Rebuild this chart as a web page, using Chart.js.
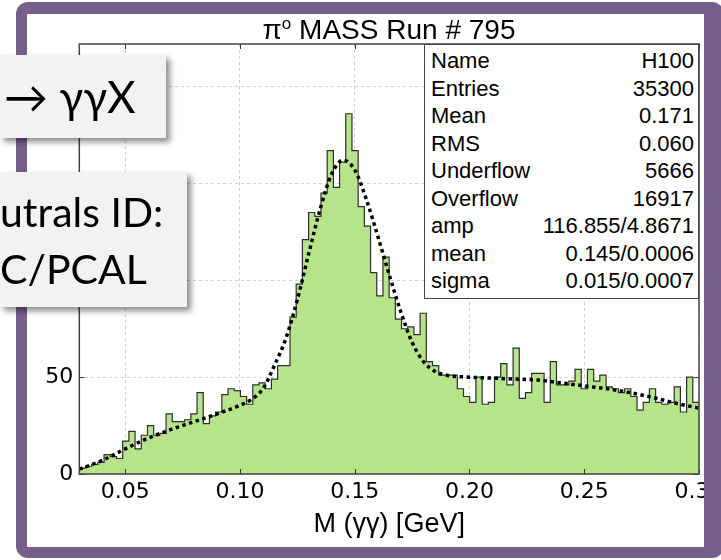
<!DOCTYPE html>
<html>
<head>
<meta charset="utf-8">
<script src="https://cdn.jsdelivr.net/npm/chart.js@4.4.1/dist/chart.umd.min.js"></script>
<style>
    html, body { margin: 0; padding: 0; background: #fff; }
    #stage { position: relative; width: 721px; height: 560px; overflow: hidden; background: #fff; }
    #plot { position: absolute; left: 0; top: 0; z-index: 1; }
    .frame {
        position: absolute; left: 16px; top: 2px; width: 708px; height: 556px;
        box-sizing: border-box; border: 12px solid #775f8b; border-right-width: 20px;
        border-bottom-width: 11px; border-left-width: 11px;
        border-radius: 12px; z-index: 2; pointer-events: none;
    }
    .title {
        position: absolute; left: 79px; width: 620px; top: 8px; text-align: center;
        font: 28px "Liberation Sans", Arial, sans-serif; line-height: 32px; color: #000; z-index: 3;
    }
    .stats {
        position: absolute; left: 424px; top: 44px; width: 275px; height: 255px;
        box-sizing: border-box; border: 1px solid #444; background: #fff; z-index: 3;
        padding: 2px 4px 0 6px; font: 22px "Liberation Sans", Arial, sans-serif; color: #000;
    }
    .stats .row { display: flex; justify-content: space-between; height: 27.5px; line-height: 27.5px; }
    .callout {
        position: absolute; left: 0; background: #f2f2f2; z-index: 4;
        box-shadow: 4px 4px 6px rgba(0,0,0,0.45);
        font-family: Lato, "Open Sans", sans-serif; color: #000; white-space: nowrap;
    }
    #box1 { top: 55px; width: 166px; height: 83px; font-size: 44px; line-height: 83px; padding-left: 4px; box-sizing: border-box; }
    #box2 { top: 172px; width: 187px; height: 135px; font-size: 41px; line-height: 57px; padding-top: 11px; box-sizing: border-box; }
</style>
</head>
<body>
<div id="stage">
    <canvas id="plot" width="721" height="560"></canvas>
    <div class="frame"></div>
    <div class="title">π<sup style="font-size:17px">o</sup> MASS Run # 795</div>
    <div class="stats" id="stats"></div>
    <div class="callout" id="box1">→ γγX</div>
    <div class="callout" id="box2">utrals ID:<br>C/PCAL</div>
</div>

<script>
// histogram H100: 100 bins between 0.03 and 0.30 GeV
const xRange = [0.03, 0.30];
const counts = [
    3, 4, 5, 6, 10, 9, 8, 17, 22, 13,
    20, 25, 20, 21, 31, 27, 27, 28, 31, 42,
    26, 30, 32, 41, 44, 43, 40, 36, 46, 47,
    44, 49, 56, 56, 81, 98, 121, 135, 133, 145,
    167, 148, 161, 186, 167, 138, 128, 104, 92, 112,
    91, 80, 75, 76, 72, 83, 58, 56, 51, 51,
    51, 44, 40, 37, 50, 36, 37, 50, 57, 46,
    65, 39, 42, 52, 52, 37, 58, 46, 46, 48,
    54, 44, 54, 48, 51, 45, 44, 42, 44, 40,
    33, 37, 44, 37, 36, 37, 45, 32, 50, 37
];

// fit (gaus + background)
const fitX = [0.030, 0.040, 0.050, 0.060, 0.070, 0.080, 0.090, 0.100, 0.105, 0.110,
              0.115, 0.120, 0.125, 0.130, 0.135, 0.140, 0.145, 0.150, 0.155, 0.160,
              0.165, 0.170, 0.175, 0.180, 0.185, 0.190, 0.200, 0.210, 0.220, 0.230,
              0.240, 0.250, 0.260, 0.270, 0.280, 0.290, 0.300];
const fitY = [2.5, 7, 13, 18.5, 23, 27, 31, 35.5, 38.5, 44,
              56, 70, 90, 114, 137, 155, 162, 157, 142, 123,
              103, 84, 68, 58, 53, 51, 50, 49.5, 49, 48.5,
              47, 45.5, 44, 42, 39.5, 36.5, 34];

const xTicks = [0.05, 0.10, 0.15, 0.20, 0.25, 0.30];
const yTicks = [0, 50, 100, 150, 200];
const yMax = 222;

const statNames  = ['Name', 'Entries', 'Mean', 'RMS', 'Underflow', 'Overflow', 'amp', 'mean', 'sigma'];
const statValues = ['H100', '35300', '0.171', '0.060', '5666', '16917', '116.855/4.8671', '0.145/0.0006', '0.015/0.0007'];

document.getElementById('stats').innerHTML = statNames.map((n, i) =>
    `<div class="row"><span>${n}</span><span>${statValues[i]}</span></div>`).join('');

// step points at bin low edges, plus the closing edge
const binW = (xRange[1] - xRange[0]) / counts.length;
const histPoints = counts.map((c, i) => ({ x: xRange[0] + i * binW, y: c }));
histPoints.push({ x: xRange[1], y: counts[counts.length - 1] });

const fitPoints = fitX.map((x, i) => ({ x: x, y: fitY[i] }));

// frame box + inward ticks on all four sides, like ROOT
const frameTicks = {
    id: 'frameTicks',
    afterDatasetsDraw(chart) {
        const { ctx, chartArea: a, scales } = chart;
        ctx.save();
        ctx.strokeStyle = '#333';
        ctx.lineWidth = 1;
        const len = 5;
        ctx.beginPath();
        xTicks.forEach(v => {
            const px = Math.round(scales.x.getPixelForValue(v)) + 0.5;
            ctx.moveTo(px, a.bottom); ctx.lineTo(px, a.bottom - len);
            ctx.moveTo(px, a.top);    ctx.lineTo(px, a.top + len);
        });
        yTicks.forEach(v => {
            const py = Math.round(scales.y.getPixelForValue(v)) + 0.5;
            ctx.moveTo(a.left, py);  ctx.lineTo(a.left + len, py);
            ctx.moveTo(a.right, py); ctx.lineTo(a.right - len, py);
        });
        ctx.stroke();
        ctx.lineWidth = 1.5;
        ctx.strokeStyle = '#444';
        ctx.strokeRect(a.left, a.top, a.right - a.left, a.bottom - a.top);
        ctx.restore();
    }
};

const tickFont = { family: '"DejaVu Sans", sans-serif', size: 22 };

new Chart(document.getElementById('plot'), {
    type: 'line',
    data: {
        datasets: [
            {
                label: 'H100',
                data: histPoints,
                stepped: true,
                fill: 'origin',
                backgroundColor: '#b6e48a',
                borderColor: '#2e2e2e',
                borderWidth: 1.2,
                pointRadius: 0,
                order: 2
            },
            {
                label: 'fit',
                data: fitPoints,
                fill: false,
                borderColor: '#000',
                borderWidth: 3.5,
                borderDash: [3.5, 3.5],
                cubicInterpolationMode: 'monotone',
                pointRadius: 0,
                order: 1
            }
        ]
    },
    options: {
        responsive: false,
        animation: false,
        devicePixelRatio: 1,
        layout: { padding: { top: 44, right: 22, left: 0, bottom: 0 } },
        plugins: {
            legend: { display: false },
            tooltip: { enabled: false },
            title: { display: false }
        },
        scales: {
            x: {
                type: 'linear',
                min: xRange[0],
                max: xRange[1],
                afterBuildTicks: s => { s.ticks = xTicks.map(v => ({ value: v })); },
                afterFit: s => { s.height = 86; s.paddingLeft = 0; s.paddingRight = 0; },
                ticks: {
                    callback: v => v.toFixed(2),
                    font: tickFont, color: '#000', padding: 5,
                    maxRotation: 0, autoSkip: false
                },
                grid: { color: '#cfcfcf', drawTicks: false, lineWidth: 1 },
                border: { display: false, dash: [3, 3] },
                title: {
                    display: true,
                    text: 'M (γγ) [GeV]',
                    color: '#000',
                    font: { family: '"Liberation Sans", Arial, sans-serif', size: 27 },
                    padding: { top: 0, bottom: 19 }
                }
            },
            y: {
                min: 0,
                max: yMax,
                afterBuildTicks: s => { s.ticks = yTicks.map(v => ({ value: v })); },
                afterFit: s => { s.width = 79.3; s.paddingTop = 0; s.paddingBottom = 0; },
                ticks: { font: tickFont, color: '#000', padding: 6 },
                grid: { color: '#cfcfcf', drawTicks: false, lineWidth: 1 },
                border: { display: false, dash: [3, 3] }
            }
        }
    },
    plugins: [frameTicks]
});
</script>
</body>
</html>
